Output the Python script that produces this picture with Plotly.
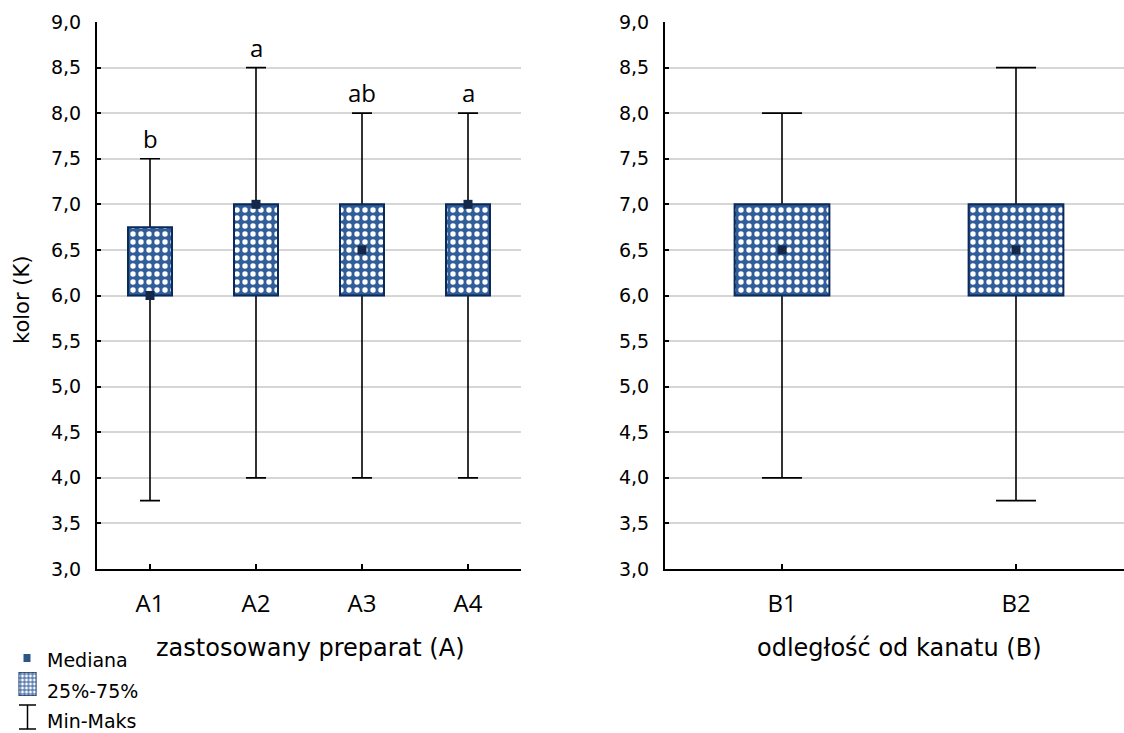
import plotly.graph_objects as go

# ---- data ----
cats_a = ["A1", "A2", "A3", "A4"]
min_a = [3.75, 4.0, 4.0, 4.0]
q1_a = [6.0, 6.0, 6.0, 6.0]
med_a = [6.0, 7.0, 6.5, 7.0]
q3_a = [6.75, 7.0, 7.0, 7.0]
max_a = [7.5, 8.5, 8.0, 8.0]
letters_a = ["b", "a", "ab", "a"]

cats_b = ["B1", "B2"]
min_b = [4.0, 3.75]
q1_b = [6.0, 6.0]
med_b = [6.5, 6.5]
q3_b = [7.0, 7.0]
max_b = [8.0, 8.5]

y_ticks = [3.0 + 0.5 * i for i in range(13)]

# ---- style ----
W, H = 1124, 733
BOX_BLUE = "#315d99"
BOX_EDGE = "#0b2a5c"
MED_COL = "#14294a"
GRID = "#d6d6d6"
NUM_FONT = "DejaVu Sans"
CAT_FONT = "Open Sans"


def px(x):
    return x / W


def py(y):
    return 1 - y / H


fig = go.Figure()


def add_panel(cats, lo, q1, med, q3, hi, xa, ya, box_w, cap_w):
    # whiskers: error bars carried by an invisible bar spanning the box
    fig.add_trace(go.Bar(
        x=cats, y=[b - a for a, b in zip(q1, q3)], base=q1, width=box_w,
        marker=dict(color="rgba(0,0,0,0)", line=dict(width=0)),
        error_y=dict(type="data", symmetric=False,
                     array=[h - t for h, t in zip(hi, q3)],
                     arrayminus=[t - l for t, l in zip(q3, lo)],
                     color="black", thickness=1.6, width=cap_w),
        xaxis=xa, yaxis=ya, showlegend=False, hoverinfo="skip"))
    # interquartile boxes
    fig.add_trace(go.Bar(
        x=cats, y=[b - a for a, b in zip(q1, q3)], base=q1, width=box_w,
        marker=dict(color=BOX_BLUE, line=dict(color=BOX_EDGE, width=2),
                    pattern=dict(shape=".", fgcolor="white", bgcolor=BOX_BLUE,
                                 fgopacity=1, size=8, solidity=0.36)),
        xaxis=xa, yaxis=ya, showlegend=False))
    # medians
    fig.add_trace(go.Scatter(
        x=cats, y=med, mode="markers",
        marker=dict(symbol="square", size=9, color=MED_COL),
        xaxis=xa, yaxis=ya, showlegend=False, cliponaxis=False))


add_panel(cats_a, min_a, q1_a, med_a, q3_a, max_a, "x", "y", 0.415, 10)
add_panel(cats_b, min_b, q1_b, med_b, q3_b, max_b, "x2", "y2", 0.405, 20)

# legend swatch for the box pattern, in its own small axis pair
fig.add_trace(go.Bar(
    x=[0], y=[1], width=1,
    marker=dict(color=BOX_BLUE, line=dict(color=BOX_EDGE, width=1.5),
                pattern=dict(shape="+", fgcolor=BOX_BLUE, bgcolor="white",
                             fgopacity=1, size=4, solidity=0.5)),
    xaxis="x3", yaxis="y3", showlegend=False, hoverinfo="skip"))

yaxis_common = dict(
    range=[3, 9], tickvals=y_ticks, tickformat=".1f", automargin=False,
    showgrid=True, gridcolor=GRID, gridwidth=1.5, zeroline=False,
    showline=True, linecolor="black", linewidth=2,
    ticks="inside", ticklen=4, tickwidth=1.5, tickcolor="black",
    ticklabelstandoff=10,
    tickfont=dict(family=NUM_FONT, size=19, color="black"))
xaxis_common = dict(
    showgrid=False, zeroline=False, automargin=False,
    showline=True, linecolor="black", linewidth=2,
    ticks="inside", ticklen=5, tickwidth=1.5, tickcolor="black",
    ticklabelstandoff=12,
    tickfont=dict(family=CAT_FONT, size=24, color="black"))

y_dom = [py(569), py(22)]

fig.update_layout(
    width=W, height=H,
    margin=dict(l=0, r=0, t=0, b=0),
    paper_bgcolor="white", plot_bgcolor="white",
    separators=", ",
    barmode="overlay",
    xaxis=dict(domain=[px(97), px(521)], range=[-0.5, 3.5], anchor="y",
               **xaxis_common),
    yaxis=dict(domain=y_dom, anchor="x", **yaxis_common),
    xaxis2=dict(domain=[px(665), 1.0], range=[-0.5, (W - 782) / 234], anchor="y2",
                **xaxis_common),
    yaxis2=dict(domain=y_dom, anchor="x2", **yaxis_common),
    xaxis3=dict(domain=[px(18.5), px(36.5)], range=[-0.5, 0.5], visible=False,
                anchor="y3", fixedrange=True, automargin=False),
    yaxis3=dict(domain=[py(696), py(672)], range=[0, 1], visible=False,
                anchor="x3", fixedrange=True, automargin=False),
)

annotations = []
# significance letters above the whisker caps
for c, h, t in zip(cats_a, max_a, letters_a):
    annotations.append(dict(x=c, y=h, xref="x", yref="y", text=t,
                            showarrow=False, yanchor="bottom", yshift=2,
                            font=dict(family=CAT_FONT, size=24, color="black")))

title_font = dict(family=NUM_FONT, size=24, color="black")
annotations += [
    dict(x=px(310), y=py(648), xref="paper", yref="paper",
         text="zastosowany preparat (A)", showarrow=False,
         xanchor="center", yanchor="middle", font=title_font),
    dict(x=px(899), y=py(648), xref="paper", yref="paper",
         text="odległość od kanatu (B)", showarrow=False,
         xanchor="center", yanchor="middle", font=title_font),
    dict(x=px(22), y=py(300), xref="paper", yref="paper",
         text="kolor (K)", showarrow=False, textangle=-90,
         xanchor="center", yanchor="middle",
         font=dict(family=NUM_FONT, size=21, color="black")),
]

legend_font = dict(family=NUM_FONT, size=19, color="black")
for txt, yc in [("Mediana", 660), ("25%-75%", 691), ("Min-Maks", 721)]:
    annotations.append(dict(x=px(45), y=py(yc), xref="paper", yref="paper",
                            text=txt, showarrow=False, xanchor="left",
                            yanchor="middle", font=legend_font))
fig.update_layout(annotations=annotations)

# legend glyphs: median square and min-max whisker
shapes = [
    dict(type="rect", xref="paper", yref="paper",
         x0=px(23.5), x1=px(30.5), y0=py(662), y1=py(654),
         fillcolor="#2b5585", line=dict(width=0)),
    dict(type="line", xref="paper", yref="paper",
         x0=px(27.5), x1=px(27.5), y0=py(705), y1=py(729),
         line=dict(color="black", width=1.5)),
    dict(type="line", xref="paper", yref="paper",
         x0=px(19), x1=px(36), y0=py(705), y1=py(705),
         line=dict(color="black", width=1.5)),
    dict(type="line", xref="paper", yref="paper",
         x0=px(19), x1=px(36), y0=py(729), y1=py(729),
         line=dict(color="black", width=1.5)),
]
fig.update_layout(shapes=shapes)

fig.write_html("out.html")
